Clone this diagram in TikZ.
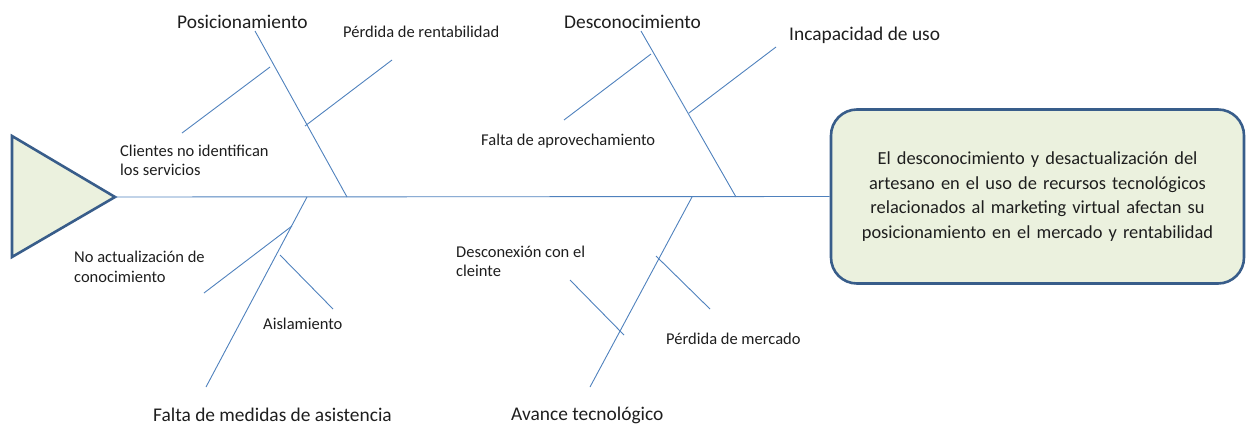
\documentclass[tikz,border=0pt]{standalone}
\usepackage{fontspec}
\setmainfont{Carlito}
\definecolor{bone}{RGB}{79,129,189}
\definecolor{edgeblue}{RGB}{56,93,138}
\definecolor{fillgreen}{RGB}{235,241,222}
\definecolor{txt}{RGB}{30,30,30}
\begin{document}
\begin{tikzpicture}[x=1pt,y=-1pt,
  boneline/.style={draw=bone,line width=0.9pt},
  small/.style={anchor=west,inner sep=0pt,text=txt,font=\fontsize{16.5}{19.5}\selectfont,align=left},
  big/.style={anchor=west,inner sep=0pt,text=txt,font=\fontsize{19.4}{22}\selectfont}]
\useasboundingbox (0,0) rectangle (1248,426);
% head
\node[draw=edgeblue,line width=2.6pt,fill=fillgreen,rounded corners=26pt,
  minimum width=413pt,minimum height=174pt,inner sep=0pt,
  text width=405pt,align=center,text=txt,
  font=\fontsize{18.4}{24.6}\selectfont] (head) at (1037.5,196.5)
  {El desconocimiento y desactualización del\\artesano en el uso de recursos tecnológicos\\relacionados al marketing virtual afectan su\\posicionamiento en el mercado y rentabilidad};
% tail triangle
\coordinate (t1) at (12,136);
\coordinate (t2) at (12,257);
\coordinate (tip) at (115,197);
\draw[edgeblue,line width=2.6pt,fill=fillgreen,line join=miter] (t1) -- (tip) -- (t2) -- cycle;
% spine
\draw[boneline] (tip) -- (head.west);
% upper branch 1
\coordinate (a1) at (255,31); \coordinate (a2) at (347,197);
\draw[boneline] (a1) -- (a2);
\coordinate (a3) at (182,133); \coordinate (a4) at (270,67);
\draw[boneline] (a3) -- (a4);
\coordinate (a5) at (305,126); \coordinate (a6) at (392,60);
\draw[boneline] (a5) -- (a6);
% upper branch 2
\coordinate (b1) at (641,31); \coordinate (b2) at (736,197);
\draw[boneline] (b1) -- (b2);
\coordinate (b3) at (564,120); \coordinate (b4) at (651,54);
\draw[boneline] (b3) -- (b4);
\coordinate (b5) at (689,113); \coordinate (b6) at (776,47);
\draw[boneline] (b5) -- (b6);
% lower branch 1
\coordinate (c1) at (307,197); \coordinate (c2) at (206,387);
\draw[boneline] (c1) -- (c2);
\coordinate (c3) at (204,293); \coordinate (c4) at (292,226);
\draw[boneline] (c3) -- (c4);
\coordinate (c5) at (280,255); \coordinate (c6) at (333,309);
\draw[boneline] (c5) -- (c6);
% lower branch 2
\coordinate (d1) at (692,197); \coordinate (d2) at (590,387);
\draw[boneline] (d1) -- (d2);
\coordinate (d3) at (656,256); \coordinate (d4) at (710,309);
\draw[boneline] (d3) -- (d4);
\coordinate (d5) at (570,280); \coordinate (d6) at (624,335);
\draw[boneline] (d5) -- (d6);
% labels
\node[big] (l1) at (177,22) {Posicionamiento};
\node[small] (l2) at (343,32) {Pérdida de rentabilidad};
\node[big] (l3) at (564,22) {Desconocimiento};
\node[big] (l4) at (789,35) {Incapacidad de uso};
\node[small] (l5) at (481,141) {Falta de aprovechamiento};
\node[small] (l6) at (120,160.5) {Clientes no identifican\\los servicios};
\node[small] (l7) at (74,267) {No actualización de\\conocimiento};
\node[small] (l8) at (263,324) {Aislamiento};
\node[big] (l9) at (153,415) {Falta de medidas de asistencia};
\node[small] (l10) at (456,261.5) {Desconexión con el\\cleinte};
\node[small] (l11) at (666,339) {Pérdida de mercado};
\node[big] (l12) at (511,415) {Avance tecnológico};
\end{tikzpicture}
\end{document}
